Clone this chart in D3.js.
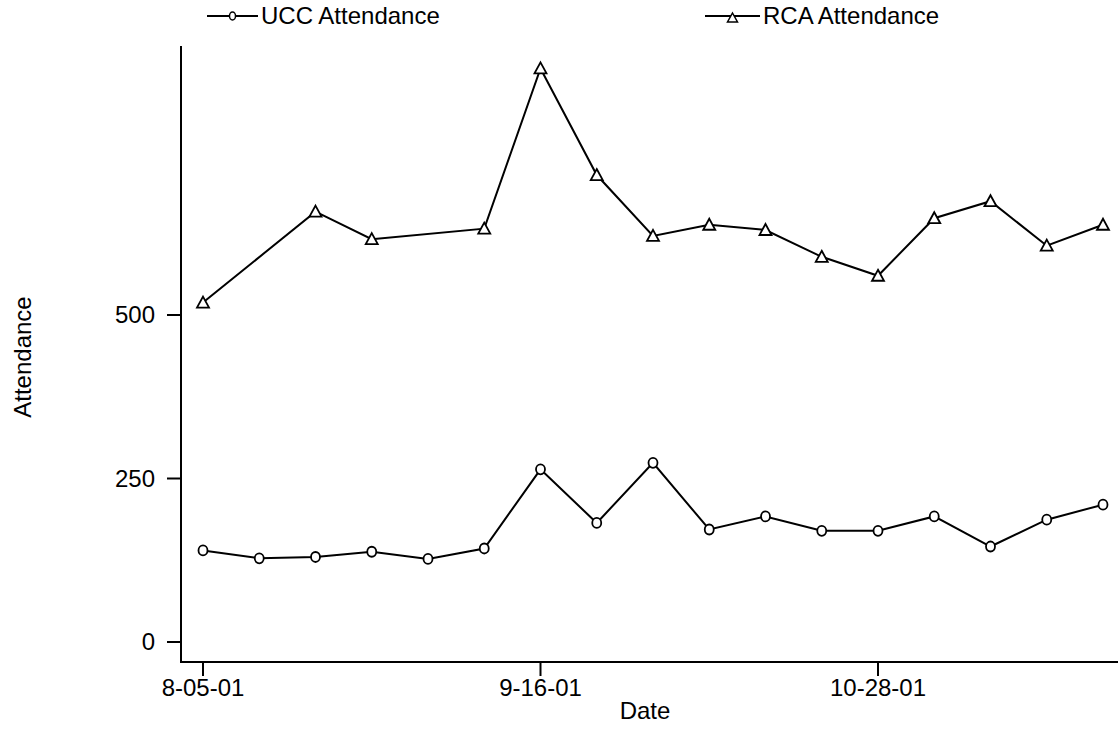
<!DOCTYPE html>
<html>
<head>
<meta charset="utf-8">
<script src="https://cdn.jsdelivr.net/npm/d3@7"></script>
<style>
  html, body { margin: 0; padding: 0; background: #fff; }
  svg { display: block; }
</style>
</head>
<body>
<div id="chart"></div>
<script>
// weekly dates
const dates = ["2001-08-05", "2001-08-12", "2001-08-19", "2001-08-26", "2001-09-02", "2001-09-09",
    "2001-09-16", "2001-09-23", "2001-09-30", "2001-10-07", "2001-10-14", "2001-10-21",
    "2001-10-28", "2001-11-04", "2001-11-11", "2001-11-18", "2001-11-25"];
const uccAttendance = [140, 128, 130, 138, 127, 143, 264, 182, 274, 172, 192, 170, 170, 192, 146, 187, 210];
const rcaAttendance = [519, null, 658, 616, null, 632, 877, 714, 621, 638, 630, 589, 560, 648, 674, 606, 638];
const yTicks = [0, 250, 500];
const xTickDates = ["2001-08-05", "2001-09-16", "2001-10-28"];
const xTickLabels = ["8-05-01", "9-16-01", "10-28-01"];

const width = 1118, height = 729;
const font = "'Liberation Sans', Arial, sans-serif";
const fontSize = 24;
const parseDate = d3.timeParse("%Y-%m-%d");

const svg = d3.select("#chart").append("svg")
    .attr("width", width)
    .attr("height", height)
    .attr("viewBox", `0 0 ${width} ${height}`);

// plot frame
const axisX = 181, axisTop = 46, axisBottom = 662;

const xScale = d3.scaleTime()
    .domain([parseDate("2001-08-05"), parseDate("2001-10-28")])
    .range([203, 878]);
const yScale = d3.scaleLinear()
    .domain([0, 500])
    .range([642, 315]);

// axes lines
svg.append("line")
    .attr("x1", axisX).attr("x2", axisX)
    .attr("y1", axisTop).attr("y2", axisBottom + 1)
    .attr("stroke", "#000").attr("stroke-width", 2);
svg.append("line")
    .attr("x1", axisX).attr("x2", width)
    .attr("y1", axisBottom).attr("y2", axisBottom)
    .attr("stroke", "#000").attr("stroke-width", 2);

// y ticks
const yAxisG = svg.append("g");
yTicks.forEach(t => {
    yAxisG.append("line")
        .attr("x1", axisX - 14).attr("x2", axisX)
        .attr("y1", yScale(t)).attr("y2", yScale(t))
        .attr("stroke", "#000").attr("stroke-width", 2);
    yAxisG.append("text")
        .attr("x", axisX - 26)
        .attr("y", yScale(t))
        .attr("dy", "0.35em")
        .attr("text-anchor", "end")
        .attr("font-family", font)
        .attr("font-size", fontSize)
        .text(t);
});

// x ticks
const xAxisG = svg.append("g");
xTickDates.forEach((d, i) => {
    const x = xScale(parseDate(d));
    xAxisG.append("line")
        .attr("x1", x).attr("x2", x)
        .attr("y1", axisBottom).attr("y2", axisBottom + 14)
        .attr("stroke", "#000").attr("stroke-width", 2);
    xAxisG.append("text")
        .attr("x", x)
        .attr("y", 696)
        .attr("text-anchor", "middle")
        .attr("font-family", font)
        .attr("font-size", fontSize)
        .text(xTickLabels[i]);
});

// axis titles
svg.append("text")
    .attr("x", 645)
    .attr("y", 719)
    .attr("text-anchor", "middle")
    .attr("font-family", font)
    .attr("font-size", fontSize)
    .text("Date");
svg.append("text")
    .attr("transform", `translate(31,357) rotate(-90)`)
    .attr("text-anchor", "middle")
    .attr("font-family", font)
    .attr("font-size", fontSize)
    .text("Attendance");

// series
const ucc = dates.map((d, i) => ({ x: parseDate(d), y: uccAttendance[i] }));
const rca = dates.map((d, i) => ({ x: parseDate(d), y: rcaAttendance[i] })).filter(d => d.y != null);

const line = d3.line()
    .x(d => xScale(d.x))
    .y(d => yScale(d.y));

svg.append("path")
    .datum(ucc)
    .attr("fill", "none")
    .attr("stroke", "#000")
    .attr("stroke-width", 2)
    .attr("d", line);
svg.append("path")
    .datum(rca)
    .attr("fill", "none")
    .attr("stroke", "#000")
    .attr("stroke-width", 2)
    .attr("d", line);

const triPath = "M0,-6L6,5L-6,5Z";

svg.append("g").selectAll("ellipse")
    .data(ucc)
    .join("ellipse")
    .attr("cx", d => xScale(d.x))
    .attr("cy", d => yScale(d.y))
    .attr("rx", 4.5)
    .attr("ry", 5)
    .attr("fill", "#fff")
    .attr("stroke", "#000")
    .attr("stroke-width", 1.8);

svg.append("g").selectAll("path")
    .data(rca)
    .join("path")
    .attr("transform", d => `translate(${xScale(d.x)},${yScale(d.y)})`)
    .attr("d", triPath)
    .attr("fill", "#fff")
    .attr("stroke", "#000")
    .attr("stroke-width", 1.8);

// legend
const legendY = 16;
const legendItems = [
    { label: "UCC Attendance", x1: 207, x2: 258, marker: "circle" },
    { label: "RCA Attendance", x1: 705, x2: 760, marker: "triangle" }
];
legendItems.forEach(item => {
    const mx = (item.x1 + item.x2) / 2;
    svg.append("line")
        .attr("x1", item.x1).attr("x2", item.x2)
        .attr("y1", legendY).attr("y2", legendY)
        .attr("stroke", "#000").attr("stroke-width", 2);
    if (item.marker === "circle") {
        svg.append("ellipse")
            .attr("cx", mx).attr("cy", legendY)
            .attr("rx", 3).attr("ry", 4)
            .attr("fill", "#fff").attr("stroke", "#000").attr("stroke-width", 1.5);
    } else {
        svg.append("path")
            .attr("transform", `translate(${mx},${legendY + 2})`)
            .attr("d", "M0,-5L5,4L-5,4Z")
            .attr("fill", "#fff").attr("stroke", "#000").attr("stroke-width", 1.5);
    }
    svg.append("text")
        .attr("x", item.x2 + 3)
        .attr("y", legendY)
        .attr("dy", "0.35em")
        .attr("font-family", font)
        .attr("font-size", fontSize)
        .text(item.label);
});
</script>
</body>
</html>
